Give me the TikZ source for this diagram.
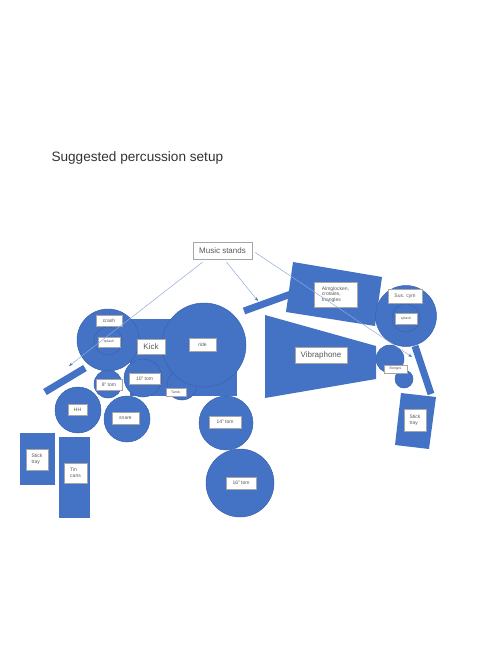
\documentclass[tikz,border=0pt]{standalone}
\usepackage{fontspec}
\setmainfont{Liberation Sans}
\usetikzlibrary{arrows.meta}
\definecolor{kitblue}{HTML}{4472C4}
\definecolor{kitedge}{HTML}{3A62AD}
\definecolor{lineblue}{HTML}{8FAADC}
\definecolor{lbltext}{HTML}{595959}
\tikzset{
  pad/.style={fill=kitblue,draw=kitedge,line width=0.5pt},
  bar/.style={draw=kitblue,line width=7pt},
  lbl/.style={draw=black!35,fill=white,text=lbltext,inner sep=0pt,align=left,
    font=\fontsize{5}{5.6}\selectfont,line width=0.4pt},
  bigl/.style={lbl,font=\fontsize{8}{9}\selectfont},
  standline/.style={draw=lineblue,line width=0.5pt,-{Stealth[length=4pt,width=3pt,color=kitblue]}}
}
\begin{document}
\begin{tikzpicture}[x=1pt,y=-1pt]
			\useasboundingbox (0,0) rectangle (500,650);
			\node[anchor=west,text=black!80,font=\fontsize{13.6}{15}\selectfont] (title) at (48,158) {Suggested percussion setup};
			% drum kit
			\fill[kitblue] (130,319) rectangle (237,396);
			\draw[pad] (182,385) circle (15);
			\draw[pad] (204,345) circle (42);
			\draw[pad] (108,340) circle (31);
			\draw[pad] (108,341) circle (14);
			\draw[pad] (108,384) circle (14);
			\draw[pad] (143,378) circle (19);
			\draw[pad] (78,410) circle (23);
			\draw[pad] (127,419) circle (23);
			\draw[pad] (226,423) circle (27);
			\draw[pad] (240,483) circle (34);
			\fill[kitblue] (20,433) rectangle (55,485);
			\fill[kitblue] (59,437) rectangle (90,518);
			% mallets
			\fill[kitblue] (293,262) -- (382,277) -- (375,326) -- (286,312) -- cycle;
			\fill[kitblue] (265,315) -- (376,346) -- (376,379) -- (265,398) -- cycle;
			\draw[pad] (406,316) circle (30.5);
			\draw[pad] (406,318) circle (14);
			\draw[pad] (390,359) circle (14);
			\draw[pad] (404,379) circle (9);
			\fill[kitblue] (401,393) -- (436,397) -- (429,449) -- (395,445) -- cycle;
			% stands
			\draw[bar] (45,392) -- (85,368);
			\draw[bar] (244,311) -- (291,294);
			\draw[bar] (415,346) -- (431,394);
			% labels
			\node[lbl,minimum width=26,minimum height=11] (crash) at (109,320.5) {crash};
			\node[lbl,minimum width=22,minimum height=10,font=\fontsize{3.5}{4}\selectfont] (splashL) at (109,342) {splash};
			\node[bigl,minimum width=28,minimum height=15] (kick) at (151,346.5) {Kick};
			\node[lbl,minimum width=27,minimum height=13] (ride) at (202.5,344.5) {ride};
			\node[lbl,minimum width=26,minimum height=11] (tomE) at (109,384.5) {8" tom};
			\node[lbl,minimum width=31,minimum height=11] (tomT) at (144.5,378.5) {10" tom};
			\node[lbl,minimum width=20,minimum height=8,font=\fontsize{3.5}{4}\selectfont] (tamb) at (176,392) {Tamb.};
			\node[lbl,minimum width=19,minimum height=11] (hh) at (77.5,409.5) {HH};
			\node[lbl,minimum width=27,minimum height=12] (snare) at (125.5,418) {snare};
			\node[lbl,minimum width=22,minimum height=21] (trayL) at (37,459.5) {Stick\\tray};
			\node[lbl,minimum width=23,minimum height=20] (cans) at (75.5,473) {Tin\\cans};
			\node[lbl,minimum width=32,minimum height=12] (tomF) at (225,422) {14" tom};
			\node[lbl,minimum width=30,minimum height=12] (tomS) at (241,483) {16" tom};
			\node[lbl,minimum width=43,minimum height=25] (glock) at (335.5,294.5) {Almglocken,\\crotales,\\triangles};
			\node[bigl,minimum width=52,minimum height=16] (vibes) at (321,355) {Vibraphone};
			\node[lbl,minimum width=34,minimum height=14] (sus) at (405,296) {Sus. cym};
			\node[lbl,minimum width=22,minimum height=11,font=\fontsize{3.5}{4}\selectfont] (splashR) at (406,318.5) {splash};
			\node[lbl,minimum width=23,minimum height=8,font=\fontsize{3.5}{4}\selectfont] (bongos) at (395.5,369) {Bongos};
			\node[lbl,minimum width=22,minimum height=22] (trayR) at (415,420) {Stick\\tray};
			\node[bigl,minimum width=59,minimum height=17] (stands) at (222.5,250.5) {Music stands};
			% stand pointers
			\coordinate (tipA) at (69,366);
			\coordinate (tipB) at (258,301);
			\coordinate (tipC) at (412,357);
			\draw[standline] ([xshift=-20pt,yshift=-3pt]stands.south) -- (tipA);
			\draw[standline] ([xshift=4pt,yshift=-3pt]stands.south) -- (tipB);
			\draw[standline] ([xshift=3pt,yshift=-2pt]stands.east) -- (tipC);
		\end{tikzpicture}
\end{document}
